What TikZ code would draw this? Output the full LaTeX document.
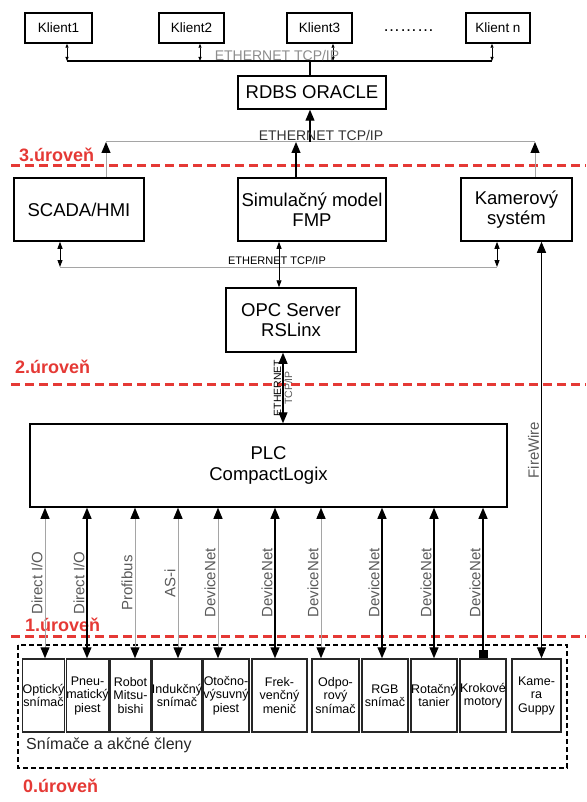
\documentclass[tikz,border=0pt]{standalone}
\usepackage{fontspec}
\setmainfont{Liberation Sans}
\usetikzlibrary{arrows.meta}
\definecolor{levelred}{RGB}{229,57,53}
\definecolor{linegray}{RGB}{165,165,165}
\definecolor{labelgray}{RGB}{90,90,90}
\tikzstyle{box} = [rectangle, draw=black, line width=1.5pt, inner sep=0pt, align=center, font=\fontsize{18.5}{20.5}\selectfont]
\tikzstyle{client} = [rectangle, draw=black, line width=1.5pt, minimum height=30pt, inner sep=0pt, font=\fontsize{13.5}{15}\selectfont]
\tikzstyle{device} = [rectangle, draw=black!85, line width=1.5pt, minimum height=73pt, inner sep=0pt, align=center, font=\fontsize{12.5}{13.5}\selectfont]
\tikzstyle{level} = [anchor=west, inner sep=0pt, text=levelred, font=\bfseries\fontsize{18}{20}\selectfont]
\tikzstyle{levelline} = [draw=levelred, line width=3pt, dash pattern=on 9pt off 5pt]
\tikzstyle{groupbox} = [draw=black, line width=2pt, dash pattern=on 5pt off 3pt]
\tikzstyle{bus} = [line width=1.2pt]
\tikzstyle{graybus} = [line width=1pt, draw=linegray]
\tikzstyle{tiny} = [line width=0.8pt, {Triangle[length=4pt,width=3pt]}-{Triangle[length=4pt,width=3pt]}]
\tikzstyle{small} = [line width=0.9pt, {Triangle[length=7pt,width=5pt,color=black]}-{Triangle[length=7pt,width=5pt,color=black]}]
\tikzstyle{arrow} = [line width=1.2pt, -{Triangle[length=11pt,width=9pt,color=black]}]
\tikzstyle{both} = [line width=1.2pt, {Triangle[length=11pt,width=9pt,color=black]}-{Triangle[length=11pt,width=9pt,color=black]}]
\tikzstyle{busname} = [inner sep=0pt, font=\fontsize{14}{16}\selectfont]
\tikzstyle{fieldbus} = [midway, rotate=90, anchor=south, inner sep=2pt, text=labelgray, font=\fontsize{15}{17}\selectfont]

\begin{document}
\begin{tikzpicture}[x=1pt, y=-1pt]
\useasboundingbox (0,0) rectangle (586,802);

% levels
\draw [levelline] (11,166) -- (586,166);
\draw [levelline] (11,384) -- (586,384);
\draw [levelline] (11,636) -- (586,636);
\node (lev3) [level] at (19,155) {3.úroveň};
\node (lev2) [level] at (15,367) {2.úroveň};
\node (lev1) [level] at (25,625) {1.úroveň};
\node (lev0) [level] at (23,786) {0.úroveň};

% clients
\node (klient1) [client, minimum width=67pt] at (58.5,28) {Klient1};
\node (klient2) [client, minimum width=65pt] at (191.5,28) {Klient2};
\node (klient3) [client, minimum width=65pt] at (319.5,28) {Klient3};
\node (klientn) [client, minimum width=64pt] at (498,28) {Klient n};
\node (dots) [font=\fontsize{17}{19}\selectfont, inner sep=0pt] at (408.5,31) {………};
\coordinate (t1) at (67,61);
\coordinate (t2) at (200,61);
\coordinate (t3) at (333,61);
\coordinate (t4) at (492,61);
\draw [bus] (t1) -- (t4);
\draw [tiny] (klient1.south -| t1) -- (t1);
\draw [tiny] (klient2.south -| t2) -- (t2);
\draw [tiny] (klient3.south -| t3) -- (t3);
\draw [tiny] (klientn.south -| t4) -- (t4);
\node (eth1) [busname, text=black!45] at (277,55) {ETHERNET TCP/IP};

% database
\node (rdbs) [box, minimum width=148pt, minimum height=33pt] at (312,92.5) {RDBS ORACLE};
\draw [bus] ([xshift=-2pt]rdbs.north) -- ([xshift=-2pt]rdbs.north |- t1);

% level 3
\coordinate (s1) at (106,142);
\coordinate (s2) at (296,142);
\coordinate (s3) at (535,142);
\draw [graybus] (s1) -- (s3);
\draw [arrow] ([xshift=-2pt]rdbs.south |- s1) -- ([xshift=-2pt]rdbs.south);
\node (eth2) [busname, text=black!80] at (321,135) {ETHERNET TCP/IP};
\node (scada) [box, minimum width=130pt, minimum height=63pt] at (79,209.5) {SCADA/HMI};
\node (sim) [box, minimum width=148pt, minimum height=63pt] at (312,209.5) {Simulačný model\\FMP};
\node (kam) [box, minimum width=111pt, minimum height=63pt] at (516.5,209.5) {Kamerový\\systém};
\draw [arrow, graybus] (scada.north -| s1) -- (s1);
\draw [arrow] (sim.north -| s2) -- (s2);
\draw [arrow, graybus] (kam.north -| s3) -- (s3);

\coordinate (u1) at (60,267);
\coordinate (u2) at (279,267);
\coordinate (u3) at (497,267);
\draw [graybus] (u1) -- (u3);
\draw [small] (scada.south -| u1) -- (u1);
\draw [small] (kam.south -| u3) -- (u3);
\node (eth3) [inner sep=0pt, font=\fontsize{11}{13}\selectfont] at (277,261) {ETHERNET TCP/IP};

% level 2
\node (opc) [box, minimum width=130pt, minimum height=64pt] at (291,320) {OPC Server\\RSLinx};
\draw [small] (sim.south -| u2) -- (opc.north -| u2);
\node (plc) [box, minimum width=477pt, minimum height=83pt] at (268.5,465.5) {PLC\\CompactLogix};
\draw [both] ([xshift=-8pt]opc.south) -- ([xshift=-8pt]opc.south |- plc.north)
  node[midway, rotate=90, align=center, inner sep=0pt, font=\fontsize{10.5}{11}\selectfont] {ETHERNET\\\textcolor{labelgray}{TCP/IP}};

% level 0
\draw [groupbox] (18,645) rectangle (567,768);
\node (group) [anchor=west, inner sep=0pt, text=black!85, font=\fontsize{16}{18}\selectfont] at (26,745) {Snímače a akčné členy};
\node (opt) [device, minimum width=41pt] at (43.5,695.5) {Optický\\snímač};
\node (pneu) [device, minimum width=41pt] at (87.5,695.5) {Pneu-\\matický\\piest};
\node (robot) [device, minimum width=41pt] at (130.5,695.5) {Robot\\Mitsu-\\bishi};
\node (indu) [device, minimum width=46pt] at (177,695.5) {Indukčný\\snímač};
\node (otoc) [device, minimum width=46pt] at (226,695.5) {Otočno-\\výsuvný\\piest};
\node (frek) [device, minimum width=55pt] at (279.5,695.5) {Frek-\\venčný\\menič};
\node (odpo) [device, minimum width=47pt] at (335.5,695.5) {Odpo-\\rový\\snímač};
\node (rgb) [device, minimum width=46pt] at (385,695.5) {RGB\\snímač};
\node (rot) [device, minimum width=46pt] at (434,695.5) {Rotačný\\tanier};
\node (krok) [device, minimum width=46pt] at (483,695.5) {Krokové\\motory};
\node (kamera) [device, minimum width=49pt] at (536.5,695.5) {Kame-\\ra\\Guppy};

% field buses
\draw [both, graybus] ([xshift=1.5pt]opt.north) -- ([xshift=1.5pt]opt.north |- plc.south) node[fieldbus] {Direct I/O};
\draw [both] ([xshift=-0.5pt]pneu.north) -- ([xshift=-0.5pt]pneu.north |- plc.south) node[fieldbus] {Direct I/O};
\draw [both, graybus] ([xshift=4.5pt]robot.north) -- ([xshift=4.5pt]robot.north |- plc.south) node[fieldbus] {Profibus};
\draw [both, graybus] ([xshift=1pt]indu.north) -- ([xshift=1pt]indu.north |- plc.south) node[fieldbus] {AS-i};
\draw [both, graybus] ([xshift=-8pt]otoc.north) -- ([xshift=-8pt]otoc.north |- plc.south) node[fieldbus] {DeviceNet};
\draw [both] ([xshift=-4.5pt]frek.north) -- ([xshift=-4.5pt]frek.north |- plc.south) node[fieldbus] {DeviceNet};
\draw [both, graybus] ([xshift=-14.5pt]odpo.north) -- ([xshift=-14.5pt]odpo.north |- plc.south) node[fieldbus] {DeviceNet};
\draw [both] ([xshift=-3pt]rgb.north) -- ([xshift=-3pt]rgb.north |- plc.south) node[fieldbus] {DeviceNet};
\draw [both] (rot.north) -- (rot.north |- plc.south) node[fieldbus] {DeviceNet};
\draw [line width=1.2pt, {Square[length=8pt,width=9pt]}-{Triangle[length=11pt,width=9pt]}] (krok.north) -- (krok.north |- plc.south) node[fieldbus] {DeviceNet};
\draw [both] ([xshift=25pt]kam.south) -- ([xshift=25pt]kam.south |- kamera.north) node[fieldbus] {FireWire};
\end{tikzpicture}
\end{document}
